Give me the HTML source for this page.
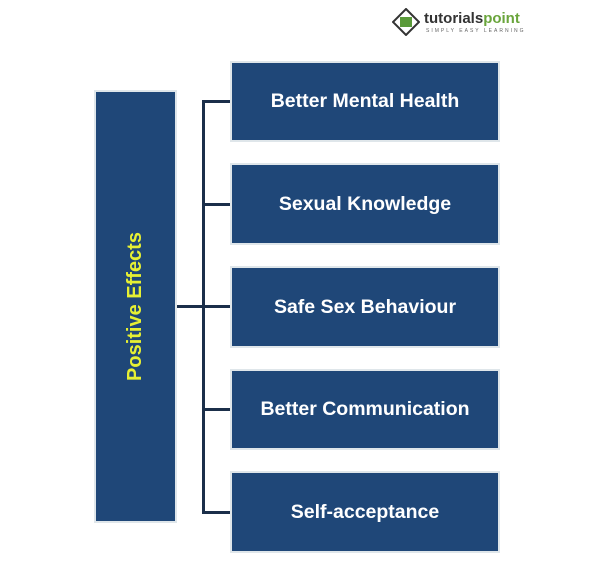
<!DOCTYPE html>
<html><head><style>
body{margin:0;width:600px;height:573px;background:#fff;position:relative;font-family:"Liberation Sans",sans-serif;overflow:hidden}
.b{position:absolute;background:#1f4778;border:2px solid #dfe6ea;box-sizing:border-box;color:#fff;font-weight:bold;font-size:19.5px;display:flex;align-items:center;justify-content:center}
.l{position:absolute;background:#1b2f4a}
</style></head><body>
<div style="position:absolute;left:392px;top:8px;width:28px;height:28px;"><svg width="28" height="28"><polygon points="14,1 27,14 14,27 1,14" fill="#fff" stroke="#333" stroke-width="2"/><rect x="8" y="9" width="12" height="10" fill="#5a9a3a"/></svg></div>
<div style="position:absolute;left:424px;top:10px;font-size:15px;font-weight:bold;color:#333">tutorials<span style="color:#6aa53c">point</span></div>
<div style="position:absolute;left:426px;top:28px;font-size:5px;letter-spacing:2px;color:#666">SIMPLY EASY LEARNING</div>
<div class="b" style="left:94px;top:90px;width:83px;height:433px"><span style="transform:rotate(-90deg);white-space:nowrap;color:#e6f033;font-size:20px">Positive Effects</span></div>
<div class="l" style="left:177px;top:305px;width:27px;height:3px"></div>
<div class="l" style="left:202px;top:100px;width:3px;height:414px"></div>
<div class="l" style="left:202px;top:100px;width:30px;height:3px"></div>
<div class="l" style="left:202px;top:203px;width:30px;height:3px"></div>
<div class="l" style="left:202px;top:305px;width:30px;height:3px"></div>
<div class="l" style="left:202px;top:408px;width:30px;height:3px"></div>
<div class="l" style="left:202px;top:511px;width:30px;height:3px"></div>
<div class="b" style="left:230px;top:61px;width:270px;height:81px">Better Mental Health</div>
<div class="b" style="left:230px;top:163px;width:270px;height:82px">Sexual Knowledge</div>
<div class="b" style="left:230px;top:266px;width:270px;height:82px">Safe Sex Behaviour</div>
<div class="b" style="left:230px;top:369px;width:270px;height:81px">Better Communication</div>
<div class="b" style="left:230px;top:471px;width:270px;height:82px">Self-acceptance</div>
</body></html>
